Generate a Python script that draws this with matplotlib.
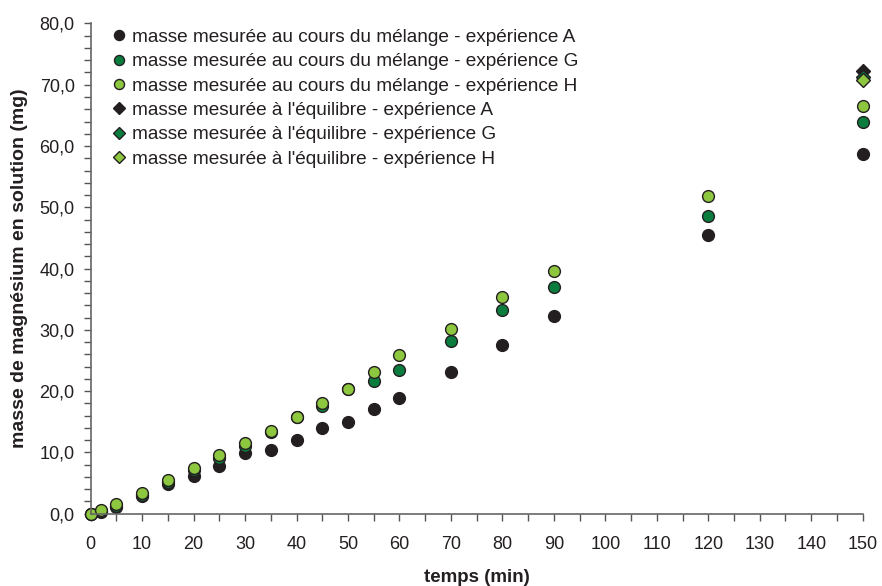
import numpy as np
import matplotlib
matplotlib.use("Agg")
import matplotlib.pyplot as plt
from matplotlib.ticker import MultipleLocator, FuncFormatter

plt.rcParams['font.family'] = ['Liberation Sans', 'DejaVu Sans']

# temps (min)
temps = [0, 2, 5, 10, 15, 20, 25, 30, 35, 40, 45, 50, 55, 60, 70, 80, 90, 120, 150]
# masse de magnesium (mg) au cours du melange
masse_A = [0.0, 0.2, 1.1, 2.9, 4.8, 6.2, 7.7, 9.9, 10.4, 12.0, 13.9, 15.0, 17.0, 18.9, 23.1, 27.5, 32.2, 45.4, 58.7]
masse_G = [0.0, 0.4, 1.3, 3.1, 5.2, 7.1, 9.0, 11.0, 13.3, 15.7, 17.5, 20.3, 21.7, 23.4, 28.2, 33.2, 37.0, 48.6, 64.0]
masse_H = [0.0, 0.5, 1.5, 3.4, 5.5, 7.5, 9.6, 11.5, 13.4, 15.8, 18.1, 20.4, 23.1, 25.8, 30.1, 35.3, 39.6, 51.8, 66.6]
# masse a l'equilibre
t_eq = [150]
eq_A = [72.3]
eq_G = [71.3]
eq_H = [70.8]

labels = ["masse mesurée au cours du mélange - expérience A",
          "masse mesurée au cours du mélange - expérience G",
          "masse mesurée au cours du mélange - expérience H",
          "masse mesurée à l'équilibre - expérience A",
          "masse mesurée à l'équilibre - expérience G",
          "masse mesurée à l'équilibre - expérience H"]
colors = ['#231f20', '#0a7d3e', '#8dc63f']
edge = '#231f20'
txt = '#231f20'

fig = plt.figure(figsize=(8.82, 5.86), dpi=100)
ax = fig.add_axes([0.1028, 0.1237, 0.8753, 0.8362])

for y, c, lab in zip([masse_A, masse_G, masse_H], colors, labels[:3]):
    ax.plot(temps, y, 'o', ms=8.5, mfc=c, mec=edge, mew=1.0, ls='none', label=lab, clip_on=False)
for y, c, lab in zip([eq_A, eq_G, eq_H], colors, labels[3:]):
    ax.plot(t_eq, y, 'D', ms=7.5, mfc=c, mec=edge, mew=1.0, ls='none', label=lab, clip_on=False)

ax.set_xlim(0, 150)
ax.set_ylim(0, 80)
ax.xaxis.set_major_locator(MultipleLocator(10))
ax.xaxis.set_minor_locator(MultipleLocator(5))
ax.yaxis.set_major_locator(MultipleLocator(10))
ax.yaxis.set_minor_locator(MultipleLocator(2))
ax.yaxis.set_major_formatter(FuncFormatter(lambda v, p: ("%.1f" % v).replace('.', ',')))

for s in ['top', 'right']:
    ax.spines[s].set_visible(False)
for s in ['left', 'bottom']:
    ax.spines[s].set_color('#666666')
    ax.spines[s].set_linewidth(1.2)
ax.tick_params(which='both', direction='out', length=5, width=1, color='#555555',
               labelsize=13, labelcolor=txt)
ax.tick_params(axis='x', pad=11.5)
ax.tick_params(axis='y', pad=6.5)

ax.set_xlabel("temps (min)", fontsize=13.5, fontweight='bold', labelpad=11, color=txt)
ax.set_ylabel("masse de magnésium en solution (mg)", fontsize=14, fontweight='bold',
              labelpad=8, color=txt)

ax.legend(loc='upper left', bbox_to_anchor=(0.017, 1.0053), frameon=False, fontsize=13.7,
          handlelength=0.8, handletextpad=0.28, labelspacing=0.37, markerscale=0.85,
          borderaxespad=0, labelcolor=txt)

plt.savefig("out.png", dpi=100)
